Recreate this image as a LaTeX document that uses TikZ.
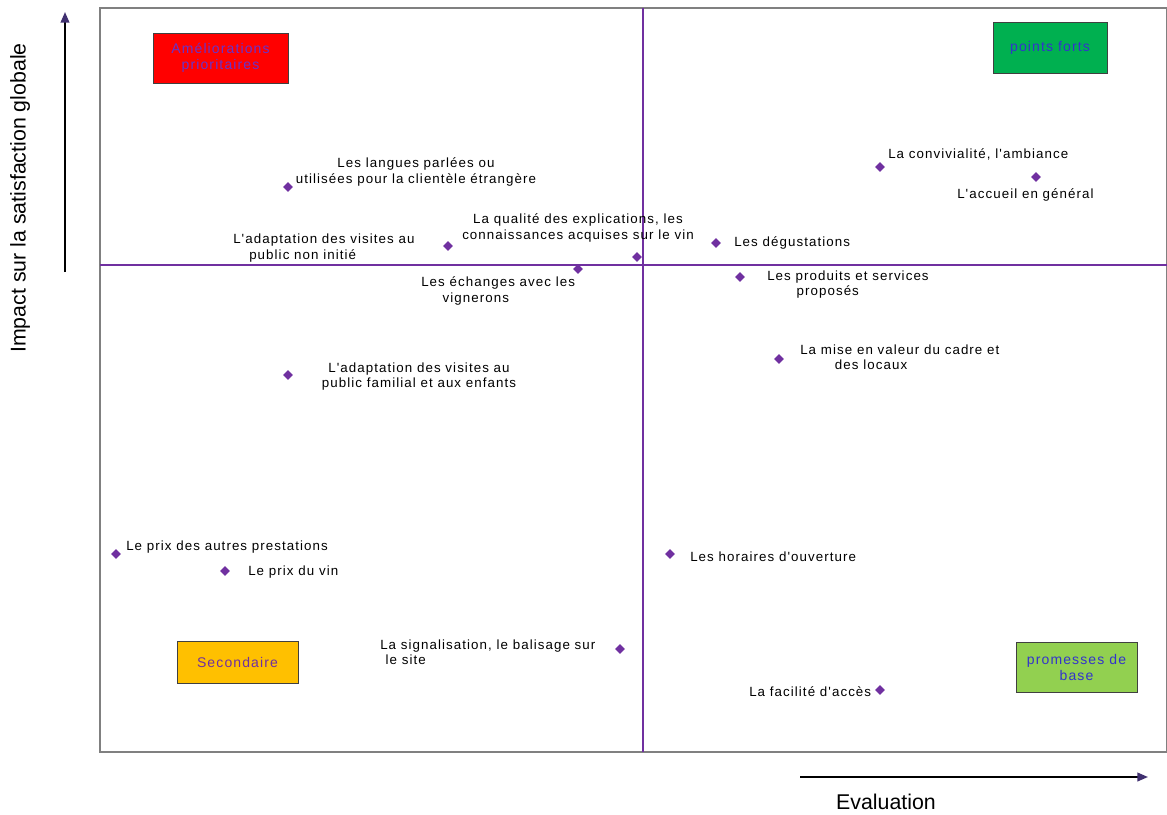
\documentclass[tikz,border=0pt]{standalone}
\usepackage{fontspec}
\setmainfont{Liberation Sans}
\newfontfamily\lblfont[LetterSpace=8]{Liberation Sans}
\usetikzlibrary{shapes.geometric,arrows.meta}
\definecolor{quadpurple}{HTML}{7030A0}
\definecolor{ptpurple}{HTML}{7030A0}
\definecolor{framegray}{HTML}{808080}
\definecolor{tipcol}{HTML}{403070}
\definecolor{txtblue}{HTML}{3333CC}
\definecolor{txtpurple}{HTML}{6633CC}
\definecolor{secpurple}{HTML}{7030A0}
\definecolor{redfill}{HTML}{FF0000}
\definecolor{greenfill}{HTML}{00B050}
\definecolor{orangefill}{HTML}{FFC000}
\definecolor{limefill}{HTML}{92D050}
\tikzset{
  pt/.style={diamond,fill=ptpurple,inner sep=0pt,minimum width=7.5pt,minimum height=7.5pt},
  lbl/.style={font=\lblfont\fontsize{10}{11.5}\selectfont,inner sep=0pt,text=black},
  quadbox/.style={draw=black!75,line width=0.6pt,inner sep=1pt,align=center,
    font=\lblfont\fontsize{10.5}{12}\selectfont},
  quadline/.style={draw=quadpurple,line width=2.2pt},
  axisarrow/.style={draw=black,line width=1.4pt,-{Triangle[length=8pt,width=6.5pt,color=tipcol]}},
  axislabel/.style={font=\fontsize{16}{19}\selectfont,inner sep=0pt}
}
\begin{document}
\begin{tikzpicture}[x=0.75pt,y=-0.75pt]
\useasboundingbox (0,0) rectangle (1167,814);
% frame
\draw[framegray,line width=1.3pt] (100,8) rectangle (1167,752);
% quadrant lines
\coordinate (vt) at (643,8);
\coordinate (vb) at (643,752);
\coordinate (hl) at (100,265);
\coordinate (hr) at (1167,265);
\draw[quadline] (vt) -- (vb);
\draw[quadline] (hl) -- (hr);
% axes
\coordinate (ya) at (65,272);
\coordinate (yb) at (65,12);
\coordinate (xa) at (800,777);
\coordinate (xb) at (1148,777);
\draw[axisarrow] (ya) -- (yb);
\draw[axisarrow] (xa) -- (xb);
\node[axislabel,rotate=90] (ylab) at (20,198) {Impact sur la satisfaction globale};
\node[axislabel] (xlab) at (886,802) {Evaluation};
% quadrant boxes
\node[quadbox,fill=redfill,text=txtpurple,minimum width=101.25pt,minimum height=37.5pt] (bam) at (220.5,58) {Améliorations\\prioritaires};
\node[quadbox,fill=greenfill,text=txtblue,minimum width=85.5pt,minimum height=38.25pt] (bpf) at (1050,47.5) {points forts};
\node[quadbox,fill=orangefill,text=secpurple,minimum width=90.75pt,minimum height=31.5pt] (bsec) at (237.5,662) {Secondaire};
\node[quadbox,fill=limefill,text=txtblue,minimum width=90.75pt,minimum height=37.5pt] (bpro) at (1076.5,667) {promesses de\\base};
% points
\node[pt] (p1) at (288,187) {};
\node[pt] (p2) at (448,246) {};
\node[pt] (p3) at (637,257) {};
\node[pt] (p4) at (578,269) {};
\node[pt] (p5) at (716,243) {};
\node[pt] (p6) at (740,277) {};
\node[pt] (p7) at (779,359) {};
\node[pt] (p8) at (880,167) {};
\node[pt] (p9) at (1036,177) {};
\node[pt] (p10) at (288,375) {};
\node[pt] (p11) at (116,554) {};
\node[pt] (p12) at (225,571) {};
\node[pt] (p13) at (670,554) {};
\node[pt] (p14) at (620,649) {};
\node[pt] (p15) at (880,690) {};
% labels
\node[lbl,align=center] (l1) at (416,172) {Les langues parlées ou\\utilisées pour la clientèle étrangère};
\node[lbl,align=left,anchor=west] (l2) at (233,248) {L'adaptation des visites au\\\hspace*{12pt}public non initié};
\node[lbl,align=center] (l3) at (578,228) {La qualité des explications, les\\connaissances acquises sur le vin};
\node[lbl,align=left,anchor=west] (l4) at (421,291) {Les échanges avec les\\\hspace*{16pt}vignerons};
\node[lbl,anchor=west] (l5) at (734,243) {Les dégustations};
\node[lbl,align=left,anchor=west] (l6) at (767,284.5) {Les produits et services\\\hspace*{22pt}proposés};
\node[lbl,align=left,anchor=west] (l7) at (800,357.5) {La mise en valeur du cadre et\\\hspace*{26pt}des locaux};
\node[lbl,anchor=west] (l8) at (888,154) {La convivialité, l'ambiance};
\node[lbl,anchor=west] (l9) at (957,195) {L'accueil en général};
\node[lbl,align=center] (l10) at (419,376.5) {L'adaptation des visites au\\public familial et aux enfants};
\node[lbl,anchor=west] (l11) at (126,547) {Le prix des autres prestations};
\node[lbl,anchor=west] (l12) at (248,572) {Le prix du vin};
\node[lbl,anchor=west] (l13) at (690,557) {Les horaires d'ouverture};
\node[lbl,align=left,anchor=west] (l14) at (380,652.5) {La signalisation, le balisage sur\\\hspace*{4pt}le site};
\node[lbl,anchor=west] (l15) at (749,692) {La facilité d'accès};
\end{tikzpicture}
\end{document}
